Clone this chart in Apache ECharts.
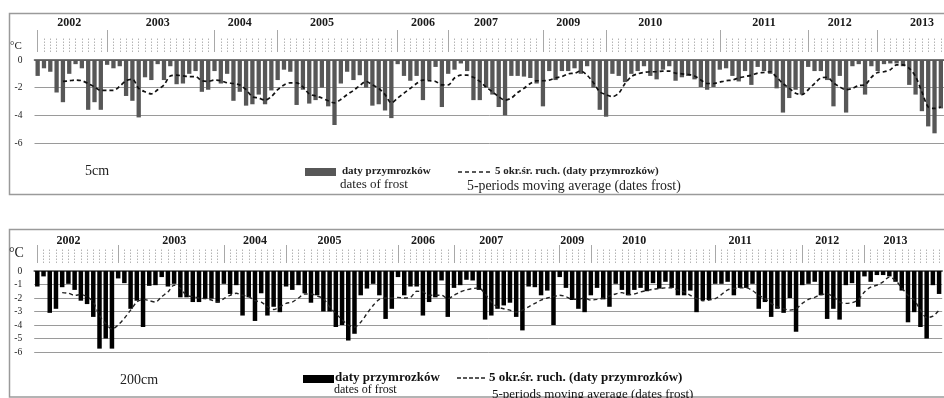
<!DOCTYPE html>
<html><head><meta charset="utf-8">
<script src="https://cdn.jsdelivr.net/npm/echarts@6/dist/echarts.min.js"></script>
<style>html,body{margin:0;padding:0;background:#fff}#c{width:944px;height:398px}</style>
</head><body><div id="c"></div>
<script>
// ---------- DATA ----------
const topBars = [
-1.15,-0.6,-0.85,-2.35,-3.05,-1.0,-0.3,-0.6,-3.6,-3.05,
-3.6,-0.35,-0.6,-0.45,-2.6,-2.95,-4.15,-1.25,-1.45,-0.3,
-1.45,-0.45,-1.75,-1.7,-1.0,-0.8,-2.3,-2.15,-0.8,-1.7,
-1.0,-2.95,-2.3,-3.3,-3.2,-2.5,-3.2,-2.2,-1.45,-0.7,
-0.85,-3.25,-2.15,-3.15,-2.9,-2.0,-3.35,-4.7,-1.7,-0.85,
-1.45,-1.1,-2.0,-3.3,-3.2,-3.65,-4.2,-0.3,-1.15,-1.5,
-1.15,-2.9,-1.45,-0.5,-3.4,-1.0,-0.7,-0.25,-0.8,-2.9,
-2.9,-2.0,-2.5,-3.4,-4.0,-1.15,-1.15,-1.2,-1.3,-1.7,
-3.35,-0.8,-1.45,-0.8,-0.8,-0.6,-1.0,-0.45,-2.0,-3.6,
-4.1,-1.0,-1.15,-1.6,-1.0,-0.8,-0.45,-1.15,-1.4,-0.7,
-0.45,-1.5,-1.25,-1.15,-1.4,-1.95,-2.15,-1.95,-0.7,-0.6,
-1.15,-1.55,-0.8,-1.8,-0.5,-0.8,-1.0,-2.05,-3.8,-2.75,
-2.15,-2.5,-0.5,-0.8,-0.8,-1.45,-3.35,-1.15,-3.8,-0.45,
-0.3,-2.5,-0.45,-0.8,-0.3,-0.25,-0.25,-0.45,-1.8,-2.5,
-3.7,-4.8,-5.3,-3.5
];
const topMA = [
null,null,null,null,-1.55,-1.5,-1.45,-1.5,-1.7,-1.95,
-2.2,-2.2,-2.2,-1.9,-1.5,-1.4,-2.05,-2.3,-2.45,-2.15,
-1.8,-1.15,-1.1,-1.15,-1.2,-1.2,-1.5,-1.55,-1.45,-1.5,
-1.65,-1.7,-1.8,-2.15,-2.65,-2.75,-2.9,-2.65,-2.15,-1.8,
-1.65,-1.65,-1.95,-2.45,-2.6,-2.75,-2.95,-3.1,-2.85,-2.5,
-2.2,-1.85,-1.55,-1.8,-2.05,-2.5,-3.1,-2.75,-2.4,-2.05,
-1.7,-1.45,-1.5,-1.55,-1.8,-1.8,-1.3,-1.1,-1.1,-1.25,
-1.55,-1.95,-2.3,-2.65,-2.9,-2.75,-2.35,-2.05,-1.7,-1.5,
-1.5,-1.45,-1.3,-1.2,-1.0,-0.95,-0.8,-1.1,-1.65,-2.3,
-2.5,-2.65,-2.4,-1.7,-1.2,-1.0,-0.9,-0.85,-0.85,-0.8,
-0.8,-0.95,-1.0,-1.05,-1.15,-1.45,-1.7,-1.7,-1.6,-1.5,
-1.45,-1.3,-1.2,-1.1,-0.95,-0.9,-0.85,-1.25,-1.7,-2.05,
-2.4,-2.5,-2.15,-1.7,-1.3,-1.25,-1.65,-1.95,-2.15,-2.05,
-1.85,-1.8,-1.25,-0.9,-0.85,-0.7,-0.35,-0.35,-0.6,-1.2,
-2.3,-3.4,-3.5,-3.4
];
const bottomBars = [
-1.15,-0.4,-3.1,-2.8,-1.2,-0.95,-1.4,-2.2,-2.45,-3.4,
-5.75,-5.0,-5.75,-0.55,-0.9,-2.8,-2.2,-4.15,-1.1,-1.05,
-0.45,-1.15,-0.95,-1.95,-1.95,-2.3,-2.3,-2.05,-2.05,-2.35,
-0.95,-1.7,-1.05,-3.3,-1.95,-3.7,-1.65,-3.3,-2.65,-3.05,
-1.15,-1.4,-1.05,-1.65,-2.35,-1.8,-3.0,-3.0,-4.15,-4.0,
-5.15,-4.65,-1.8,-1.3,-0.95,-1.8,-3.55,-2.8,-0.45,-1.8,
-1.15,-1.15,-3.3,-2.3,-1.95,-0.7,-3.4,-1.25,-1.05,-0.65,
-0.7,-1.4,-3.6,-3.3,-2.8,-2.55,-2.35,-3.4,-4.4,-1.15,
-1.2,-1.8,-1.45,-4.0,-0.45,-1.25,-2.15,-2.8,-3.05,-1.8,
-1.25,-2.1,-2.65,-0.95,-1.4,-1.8,-1.4,-1.25,-1.5,-0.9,
-1.3,-0.8,-1.25,-1.8,-1.8,-1.45,-3.05,-2.15,-2.15,-0.95,
-0.95,-0.8,-1.8,-1.25,-1.25,-0.95,-2.8,-2.3,-3.4,-2.8,
-3.1,-2.0,-4.5,-1.05,-0.95,-0.8,-1.8,-3.55,-2.8,-3.6,
-1.05,-0.9,-2.65,-0.4,-0.8,-0.3,-0.3,-0.4,-0.8,-1.45,
-3.8,-3.05,-4.15,-5.0,-1.05,-1.7
];
const bottomMA = [
null,null,null,null,-1.6,-1.65,-1.8,-1.75,-1.9,-2.3,
-3.3,-3.9,-4.3,-4.0,-3.5,-2.9,-2.3,-2.1,-2.2,-2.3,
-1.9,-1.55,-1.05,-1.3,-1.8,-1.9,-2.0,-2.05,-2.15,-2.3,
-2.05,-1.8,-1.65,-1.8,-1.9,-2.2,-2.3,-2.65,-2.85,-2.65,
-2.4,-2.3,-2.0,-1.7,-1.7,-1.85,-2.05,-2.65,-3.15,-3.6,
-4.0,-4.15,-3.8,-3.15,-2.55,-2.1,-2.0,-2.0,-1.95,-2.0,
-1.95,-1.5,-1.55,-1.8,-1.8,-1.8,-2.05,-1.8,-1.55,-1.4,
-1.3,-1.25,-1.7,-2.3,-2.65,-2.8,-2.9,-3.05,-2.9,-2.65,
-2.4,-2.15,-2.0,-1.9,-1.8,-1.9,-2.1,-2.1,-2.0,-2.15,
-2.1,-2.0,-1.85,-1.7,-1.6,-1.75,-1.7,-1.55,-1.45,-1.35,
-1.3,-1.25,-1.25,-1.4,-1.55,-1.8,-2.05,-2.2,-2.15,-2.05,
-1.75,-1.4,-1.3,-1.25,-1.25,-1.45,-1.8,-2.05,-2.4,-2.65,
-2.8,-2.9,-2.8,-2.4,-2.1,-1.95,-1.75,-1.7,-1.9,-2.3,
-2.4,-2.35,-2.15,-1.55,-1.2,-1.05,-0.8,-0.45,-0.7,-1.25,
-1.8,-2.15,-2.9,-3.45,-3.35,-2.9
];
const yearNames = ['2002','2003','2004','2005','2006','2007','2009','2010','2011','2012','2013'];
const topYearIdx = [5,19,32,45,61,71,84,97,115,127,140];
const bottomYearIdx = [5,22,35,47,62,73,86,96,113,127,138];
const topLongTickIdx = [0,11,28,38,57,65,80,90,108,122,133];
const bottomLongTickIdx = [0,13,30,40,58,67,84,89,109,123,133];
const topYTicks = {min:-6, max:0, interval:2};
const bottomYTicks = {min:-6, max:0, interval:1};

// ---------- CHART ----------
const SERIF = 'Liberation Serif';
const topCats = topBars.map((_, i) => String(i));
const bottomCats = bottomBars.map((_, i) => String(i));

function xAxesFor(gridIndex, cats, yearIdx, longIdx, smallLen, longLen, labelMargin) {
  const yearMap = {};
  yearIdx.forEach((k, j) => { yearMap[k] = yearNames[j]; });
  return [
    { type:'category', gridIndex, data:cats, position:'top', boundaryGap:true,
      axisLine:{show:true, onZero:false, lineStyle:{color:'#4a4a4a', width:1.6}},
      axisTick:{show:false}, axisLabel:{show:false}, splitLine:{show:false} },
    { type:'category', gridIndex, data:cats, position:'top', offset:8, boundaryGap:true,
      axisLine:{show:false, onZero:false},
      axisTick:{show:true, alignWithLabel:true, interval:0, length:smallLen,
                lineStyle:{color:'#b4b4b4', width:1, type:[1.5,1.5]}},
      axisLabel:{show:false}, splitLine:{show:false} },
    { type:'category', gridIndex, data:cats, position:'top', offset:8, boundaryGap:true,
      axisLine:{show:false, onZero:false},
      axisTick:{show:true, alignWithLabel:true, interval:(i) => longIdx.includes(i), length:longLen,
                lineStyle:{color:'#a8a8a8', width:1}},
      axisLabel:{show:true, interval:(i) => yearIdx.includes(i), formatter:(v, i) => yearMap[i] || '',
                 margin:labelMargin, fontFamily:SERIF, fontWeight:'bold', fontSize:12, color:'#1a1a1a'},
      splitLine:{show:false} }
  ];
}
function yAxisFor(gridIndex, t) {
  return { type:'value', gridIndex, min:t.min, max:t.max, interval:t.interval,
    axisLine:{show:false}, axisTick:{show:false},
    axisLabel:{fontFamily:SERIF, fontSize:9.5, color:'#222', margin:12},
    splitLine:{show:true, lineStyle:{color:'#9a9a9a', width:1}} };
}

const option = {
  animation:false,
  backgroundColor:'#fff',
  grid:[
    {left:34.5, top:60, width:913, height:83},
    {left:34.2, top:271, width:908, height:81}
  ],
  xAxis:[].concat(
    xAxesFor(0, topCats, topYearIdx, topLongTickIdx, 15, 22, 23),
    xAxesFor(1, bottomCats, bottomYearIdx, bottomLongTickIdx, 14, 18, 16)
  ),
  yAxis:[yAxisFor(0, topYTicks), yAxisFor(1, bottomYTicks)],
  series:[
    {type:'bar', xAxisIndex:0, yAxisIndex:0, data:topBars, barWidth:4.3,
     itemStyle:{color:'#575757'}},
    {type:'line', xAxisIndex:0, yAxisIndex:0, data:topMA, smooth:0.3, showSymbol:false,
     lineStyle:{color:'#111', width:1.7, type:[4,3]}, z:5},
    {type:'bar', xAxisIndex:3, yAxisIndex:1, data:bottomBars, barWidth:4.5,
     itemStyle:{color:'#000'}},
    {type:'line', xAxisIndex:3, yAxisIndex:1, data:bottomMA, smooth:0.3, showSymbol:false,
     lineStyle:{color:'#222', width:1.4, type:[4,3]}, z:5}
  ],
  graphic:[
    // panel frames
    {type:'rect', shape:{x:9.5, y:13.5, width:945, height:181}, style:{fill:'none', stroke:'#9a9a9a', lineWidth:1.5}, silent:true},
    {type:'rect', shape:{x:9.5, y:229.5, width:945, height:167.5}, style:{fill:'none', stroke:'#9a9a9a', lineWidth:1.5}, silent:true},
    // units
    {type:'text', left:10, top:41, style:{text:'°C', font:'11px "Liberation Serif"', fill:'#222'}},
    {type:'text', left:9, top:246, style:{text:'°C', font:'14px "Liberation Serif"', fill:'#222'}},
    // depth labels
    {type:'text', left:85, top:164, style:{text:'5cm', font:'14px "Liberation Serif"', fill:'#222'}},
    {type:'text', left:120, top:373, style:{text:'200cm', font:'14px "Liberation Serif"', fill:'#222'}},
    // top legend
    {type:'rect', shape:{x:305, y:168, width:31, height:8}, style:{fill:'#575757'}},
    {type:'text', left:342, top:166, style:{text:'daty przymrozków', font:'bold 11px "Liberation Serif"', fill:'#222'}},
    {type:'text', left:340, top:178, style:{text:'dates of frost', font:'13px "Liberation Serif"', fill:'#222'}},
    {type:'line', shape:{x1:458, y1:172, x2:492, y2:172}, style:{stroke:'#222', lineWidth:1.6, lineDash:[4,3]}},
    {type:'text', left:495, top:166, style:{text:'5 okr.śr. ruch. (daty przymrozków)', font:'bold 11px "Liberation Serif"', fill:'#222'}},
    {type:'text', left:467, top:179, style:{text:'5-periods moving average (dates frost)', font:'13.8px "Liberation Serif"', fill:'#222'}},
    // bottom legend
    {type:'rect', shape:{x:303, y:375, width:31, height:8}, style:{fill:'#000'}},
    {type:'text', left:335, top:371, style:{text:'daty przymrozków', font:'bold 13px "Liberation Serif"', fill:'#111'}},
    {type:'text', left:334, top:384, style:{text:'dates of frost', font:'12px "Liberation Serif"', fill:'#111'}},
    {type:'line', shape:{x1:457, y1:378, x2:487, y2:378}, style:{stroke:'#222', lineWidth:1.4, lineDash:[4,2]}},
    {type:'text', left:489, top:371, style:{text:'5 okr.śr. ruch. (daty przymrozków)', font:'bold 13px "Liberation Serif"', fill:'#111'}},
    {type:'text', left:492, top:388, style:{text:'5-periods moving average (dates frost)', font:'13px "Liberation Serif"', fill:'#111'}}
  ]
};
const chart = echarts.init(document.getElementById('c'), null, {renderer:'canvas'});
chart.setOption(option);
</script>
</body></html>
